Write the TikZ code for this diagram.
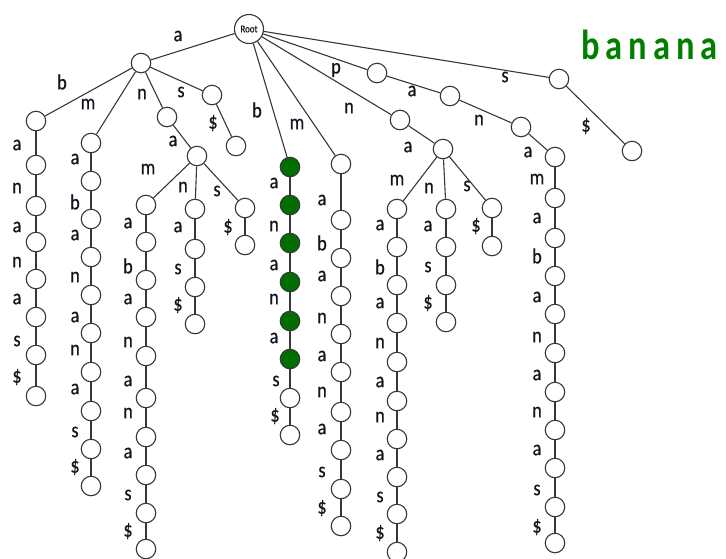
\documentclass[tikz,border=0pt]{standalone}
\usepackage{fontspec}
\newfontfamily\labfont[FakeStretch=0.85,FakeBold=0.4]{Carlito}
\newfontfamily\ttlfont[FakeStretch=0.82]{Carlito}
\definecolor{linec}{RGB}{55,55,55}
\definecolor{labc}{RGB}{20,20,30}
\definecolor{gfill}{RGB}{0,110,0}
\definecolor{ttlc}{RGB}{0,128,0}
\tikzset{
  v/.style={circle, draw=linec, fill=white, line width=1.1pt, minimum size=19.5pt, inner sep=0pt},
  g/.style={v, fill=gfill},
  rootn/.style={circle, draw=linec, fill=white, line width=1.1pt, minimum size=29pt, inner sep=0pt, font=\labfont\fontsize{10.5}{10.5}\selectfont, text=labc},
  e/.style={draw=linec, line width=1.1pt},
  lbl/.style={font=\labfont\fontsize{21.5}{21.5}\selectfont, text=labc, inner sep=0pt},
}
% single node with label on edge from parent
\newcommand\Kid[7]{% #1 style, #2 name, #3 x, #4 y, #5 parent, #6 label, #7 label pos
  \node[#1] (#2) at (#3,#4) {};
  \draw[e] (#5) -- (#2);
  \node[lbl] (#2l) at #7 {#6};}
% vertical chain
\newcommand\Chain[5]{% #1 prefix, #2 start node, #3 x, #4 label x, #5 list y/label/label y
  \foreach \yy/\tx/\ly [count=\i, remember=\i as \pj (initially 0)] in {#5}{%
    \node[v] (#1\i) at (#3,\yy) {};
    \ifnum\pj=0 \draw[e] (#2) -- (#1\i);\else \draw[e] (#1\pj) -- (#1\i);\fi
    \node[lbl] (#1\i l) at (#4,\ly) {\tx};
  }}
\begin{document}
\begin{tikzpicture}[x=1pt, y=-1pt]
\useasboundingbox (0,0) rectangle (726,558);
\node[rootn] (R) at (249,29) {Root};
% title
\node[anchor=base west, inner sep=0pt, text=ttlc, font=\ttlfont\bfseries\fontsize{42}{42}\selectfont] (title) at (581,59)
  {b\kern6pt a\kern6pt n\kern6pt a\kern6pt n\kern6pt a};
% level 1
\Kid{v}{A}{141}{63}{R}{a}{(178,36)}
\Kid{g}{B}{290}{167}{R}{b}{(257,110)}
\Kid{v}{M}{341}{164}{R}{m}{(297,124)}
\Kid{v}{N}{400}{120}{R}{n}{(349,108)}
\Kid{v}{P}{377}{73}{R}{p}{(336,70)}
\Kid{v}{S}{559}{79}{R}{s}{(505,77)}
\Kid{v}{Sd}{632}{151}{S}{\$}{(586,126)}
% a subtree
\Kid{v}{AB}{36}{121}{A}{b}{(62,82)}
\Kid{v}{AM}{91}{143}{A}{m}{(88,104)}
\Kid{v}{AN}{167}{117}{A}{n}{(142,94)}
\Kid{v}{AS}{212}{95}{A}{s}{(181,92)}
\Kid{v}{ASd}{236}{146}{AS}{\$}{(213,123)}
\Kid{v}{ANA}{197}{156}{AN}{a}{(173,141)}
\Kid{v}{ANAM}{146}{205}{ANA}{m}{(148,169)}
\Kid{v}{ANAN}{195}{209}{ANA}{n}{(183,187)}
\Kid{v}{ANAS}{245}{208}{ANA}{s}{(217,191)}
\Kid{v}{ANASd}{245}{245}{ANAS}{\$}{(228,227)}
% n subtree
\Kid{v}{NA}{443}{149}{N}{a}{(408,147)}
\Kid{v}{NAM}{397}{209}{NA}{m}{(397,180)}
\Kid{v}{NAN}{446}{209}{NA}{n}{(429,188)}
\Kid{v}{NAS}{492}{208}{NA}{s}{(467,186)}
\Kid{v}{NASd}{492}{246}{NAS}{\$}{(476,226)}
% p subtree
\Kid{v}{PA}{450}{96}{P}{a}{(412,91)}
\Kid{v}{PAN}{521}{127}{PA}{n}{(479,120)}
\Kid{v}{PANA}{555}{157}{PAN}{a}{(528,152)}
% b chain (green part)
\Kid{g}{B1}{290}{205}{B}{a}{(274,183)}
\Kid{g}{B2}{290}{243}{B1}{n}{(274,226)}
\Kid{g}{B3}{290}{282}{B2}{a}{(274,265)}
\Kid{g}{B4}{290}{321}{B3}{n}{(274,299)}
\Kid{g}{B5}{290}{359}{B4}{a}{(274,338)}
\Kid{v}{B6}{290}{398}{B5}{s}{(276,381)}
\Kid{v}{B7}{290}{435}{B6}{\$}{(275,416)}
% chains
\Chain{ab}{AB}{36}{17}{165/a/145, 206/n/188, 242/a/227, 279/n/262, 317/a/299, 355/s/341, 396/\$/377}
\Chain{am}{AM}{91}{75}{181/a/159, 219/b/202, 257/a/235, 295/n/277, 333/a/317, 372/n/350, 411/a/389, 449/s/432, 486/\$/467}
\Chain{anam}{ANAM}{146}{128}{242/a/223, 280/b/266, 317/a/299, 356/n/342, 398/a/381, 437/n/413, 475/a/453, 513/s/495, 549/\$/531}
\Chain{anan}{ANAN}{195}{178}{249/a/227, 287/s/269, 324/\$/305}
\Chain{mc}{M}{341}{322}{220/a/200, 258/b/243, 296/a/276, 334/n/318, 372/a/356, 412/n/392, 450/a/429, 489/s/472, 526/\$/508}
\Chain{nam}{NAM}{397}{380}{247/a/225, 285/b/267, 323/a/303, 362/n/343, 401/a/382, 439/n/417, 477/a/455, 514/s/497, 552/\$/533}
\Chain{nan}{NAN}{446}{428}{247/a/226, 285/s/267, 322/\$/303}
\Chain{pana}{PANA}{555}{537}{198/m/179, 238/a/218, 276/b/256, 314/a/297, 353/n/337, 392/a/375, 430/n/412, 468/a/450, 507/s/490, 543/\$/527}
\end{tikzpicture}
\end{document}
